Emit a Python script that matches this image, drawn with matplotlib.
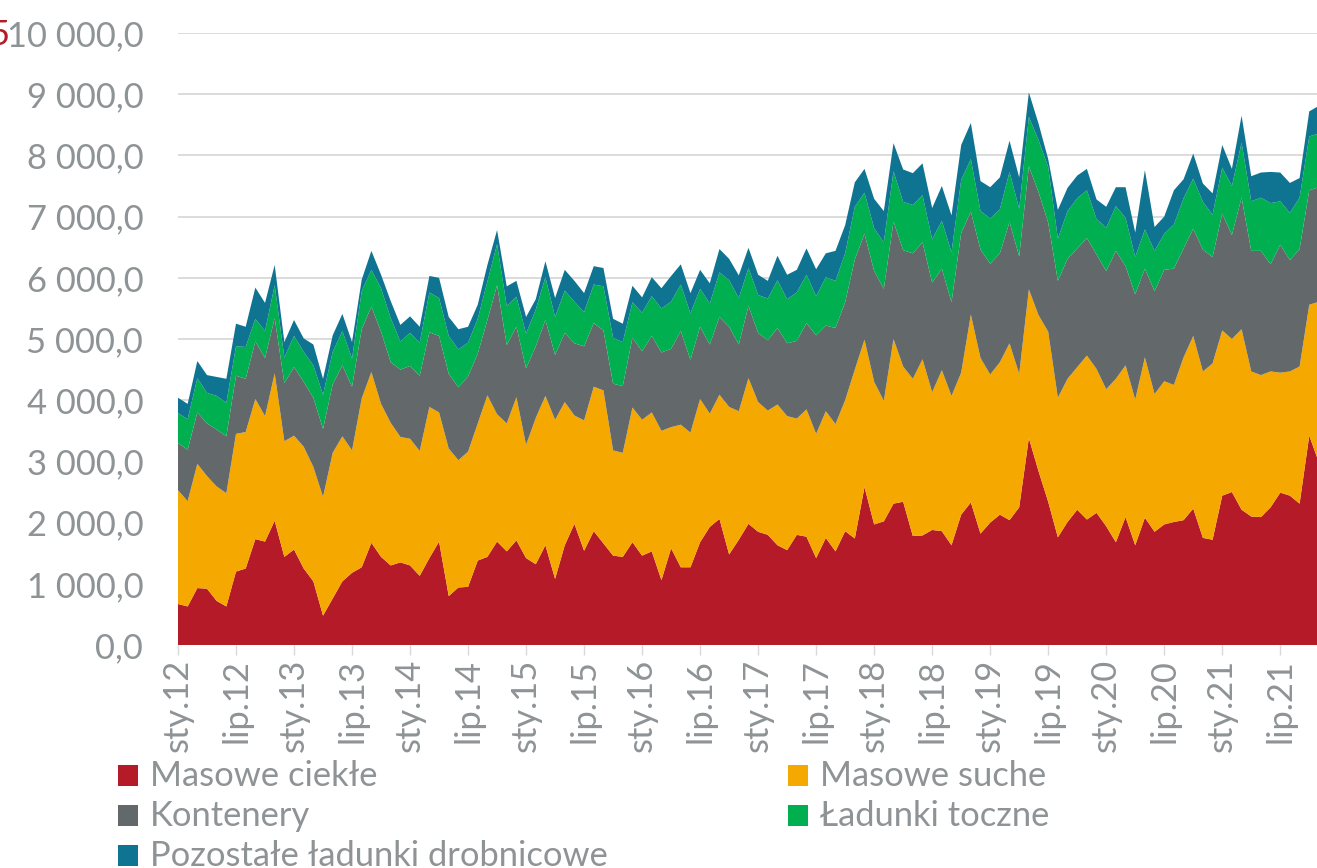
import numpy as np
import matplotlib
matplotlib.use("Agg")
import matplotlib.pyplot as plt
from matplotlib.ticker import FuncFormatter, MultipleLocator
from matplotlib.patches import Rectangle

plt.rcParams['font.family'] = ['Lato', 'DejaVu Sans']

# monthly data, sty.12 (Jan 2012) onwards, thousand tonnes
masowe_ciekle = [670, 630, 930, 920, 720, 630, 1200, 1250, 1730, 1690,
                 2030, 1440, 1560, 1250, 1040, 480, 760, 1040, 1180, 1270,
                 1670, 1440, 1300, 1350, 1300, 1130, 1420, 1690, 800, 940,
                 950, 1380, 1440, 1690, 1530, 1710, 1420, 1320, 1630, 1080,
                 1630, 1980, 1540, 1860, 1660, 1460, 1440, 1680, 1460, 1530,
                 1060, 1580, 1270, 1270, 1680, 1930, 2060, 1480, 1720, 1980,
                 1850, 1800, 1630, 1550, 1800, 1770, 1420, 1750, 1530, 1860,
                 1740, 2580, 1970, 2020, 2310, 2340, 1780, 1790, 1880, 1860,
                 1630, 2130, 2330, 1820, 2000, 2130, 2040, 2250, 3380, 2840,
                 2340, 1760, 2010, 2210, 2050, 2160, 1940, 1680, 2090, 1630,
                 2080, 1850, 1970, 2010, 2040, 2230, 1750, 1720, 2440, 2500,
                 2210, 2100, 2090, 2250, 2490, 2440, 2310, 3420, 2980]
masowe_suche = [1860, 1720, 2030, 1840, 1870, 1850, 2250, 2230, 2290, 2050,
                2410, 1890, 1860, 1990, 1870, 1940, 2380, 2370, 2000, 2760,
                2790, 2500, 2330, 2050, 2070, 2040, 2470, 2110, 2410, 2080,
                2210, 2240, 2640, 2080, 2090, 2340, 1850, 2390, 2440, 2600,
                2340, 1770, 2130, 2360, 2500, 1720, 1700, 2200, 2220, 2270,
                2440, 1980, 2330, 2200, 2340, 1850, 2030, 2410, 2100, 2380,
                2120, 2030, 2300, 2190, 1900, 2080, 2030, 2070, 2080, 2140,
                2760, 2410, 2330, 1970, 2690, 2210, 2570, 2880, 2250, 2630,
                2440, 2320, 3070, 2870, 2420, 2490, 2890, 2180, 2430, 2550,
                2780, 2280, 2340, 2330, 2680, 2350, 2240, 2670, 2480, 2380,
                2620, 2250, 2340, 2240, 2660, 2820, 2720, 2880, 2700, 2500,
                2950, 2370, 2320, 2220, 1960, 2030, 2240, 2140, 2630]
kontenery = [770, 840, 840, 860, 930, 930, 950, 870, 940, 950,
             900, 950, 1120, 1060, 1130, 1110, 1120, 1160, 1040, 1130,
             1070, 1180, 990, 1100, 1190, 1230, 1220, 1250, 1220, 1190,
             1230, 1140, 1230, 2110, 1280, 1150, 1250, 1170, 1240, 1060,
             1130, 1180, 1210, 1040, 980, 1090, 1090, 1140, 1120, 1250,
             1280, 1280, 1530, 1190, 1180, 1130, 1270, 1310, 1090, 1180,
             1130, 1150, 1250, 1190, 1270, 1410, 1610, 1400, 1570, 1600,
             1800, 1730, 1810, 1830, 1920, 1900, 2050, 1910, 1790, 1660,
             1530, 2280, 1680, 1770, 1810, 1780, 1980, 1920, 2010, 2010,
             1780, 1910, 1960, 1940, 1920, 1870, 1930, 2090, 1620, 1720,
             1450, 1680, 1820, 1900, 1780, 1750, 1990, 1740, 1910, 1700,
             2150, 1970, 2030, 1750, 2090, 1820, 1920, 1870, 1870]
ladunki_toczne = [490, 500, 560, 500, 550, 550, 480, 520, 370, 440,
                  540, 420, 510, 490, 530, 560, 530, 560, 460, 620,
                  600, 710, 720, 460, 540, 540, 650, 620, 620, 620,
                  550, 570, 630, 670, 640, 490, 570, 600, 700, 620,
                  690, 680, 560, 630, 720, 750, 720, 580, 630, 650,
                  720, 770, 760, 760, 620, 670, 730, 760, 760, 620,
                  620, 680, 780, 720, 790, 790, 640, 790, 770, 800,
                  860, 670, 700, 760, 820, 790, 790, 770, 710, 780,
                  820, 870, 860, 630, 740, 720, 820, 780, 810, 850,
                  910, 690, 780, 820, 780, 580, 710, 730, 790, 610,
                  640, 660, 590, 720, 820, 820, 780, 690, 750, 800,
                  900, 810, 870, 1000, 710, 770, 840, 880, 880]
pozostale = [250, 250, 280, 290, 310, 390, 370, 330, 510, 460,
             330, 250, 260, 220, 340, 260, 270, 280, 270, 190,
             310, 220, 280, 270, 270, 260, 270, 330, 310, 330,
             260, 230, 270, 230, 320, 260, 270, 170, 260, 310,
             340, 340, 310, 300, 300, 310, 300, 270, 250, 310,
             330, 420, 330, 330, 310, 330, 380, 350, 370, 330,
             330, 290, 400, 400, 370, 430, 440, 390, 490, 460,
             400, 390, 480, 510, 460, 530, 520, 520, 510, 570,
             600, 570, 590, 490, 510, 520, 510, 510, 400, 270,
             130, 470, 380, 370, 350, 320, 340, 310, 500, 400,
             970, 390, 280, 560, 310, 410, 300, 350, 370, 280,
             440, 410, 410, 510, 470, 490, 320, 410, 450]

nazwy = ["Masowe ciekłe", "Masowe suche", "Kontenery", "Ładunki toczne",
         "Pozostałe ładunki drobnicowe"]
kolory = ["#B51A29", "#F5A800", "#63686B", "#00AF4F", "#0E7491"]
etykiety_x = ["sty.12", "lip.12", "sty.13", "lip.13", "sty.14", "lip.14",
              "sty.15", "lip.15", "sty.16", "lip.16", "sty.17", "lip.17",
              "sty.18", "lip.18", "sty.19", "lip.19", "sty.20", "lip.20",
              "sty.21", "lip.21"]

SZARY = "#8E9396"
SIATKA = "#D9D9D9"
FS = 24.8

W, H = 1317, 868
fig = plt.figure(figsize=(W / 100, H / 100), dpi=100)
ax = fig.add_axes([178 / W, (H - 645) / H, (W - 178) / W, (645 - 33) / H])

x = np.arange(len(masowe_ciekle))
ax.stackplot(x, masowe_ciekle, masowe_suche, kontenery, ladunki_toczne, pozostale,
             colors=kolory, linewidth=0, zorder=2)

ax.set_xlim(0, 117.8)
ax.set_ylim(0, 10000)
ax.yaxis.set_major_locator(MultipleLocator(1000))
ax.yaxis.set_major_formatter(FuncFormatter(
    lambda v, p: f"{v:,.1f}".replace(",", " ").replace(".", ",")))
ax.grid(axis='y', color=SIATKA, linewidth=1.3, zorder=0)
ax.set_axisbelow(True)
for s in ax.spines.values():
    s.set_visible(False)

ax.set_xticks(np.arange(0, 6 * len(etykiety_x), 6))
ax.set_xticklabels(etykiety_x, rotation=90, va='top', ha='center')
ax.tick_params(axis='x', length=7, width=1, color=SIATKA, pad=3,
               labelsize=FS, labelcolor=SZARY)
ax.tick_params(axis='y', length=0, pad=25, labelsize=FS, labelcolor=SZARY)

# legenda ręcznie, dwie kolumny wierszami
pozycje = [(118, 786), (788, 786), (118, 826), (788, 826), (118, 866)]
for (px, py), nazwa, kol in zip(pozycje, nazwy, kolory):
    fig.patches.append(Rectangle((px / W, (H - py) / H), 20 / W, 21 / H,
                                 transform=fig.transFigure, facecolor=kol,
                                 edgecolor='none'))
    fig.text((px + 32) / W, (H - py) / H, nazwa, fontsize=FS, color=SZARY,
             va='baseline', ha='left')

# urwana etykieta w lewym górnym rogu
fig.text(9 / W, (H - 45) / H, "5", fontsize=FS, color="#B51A29",
         va='baseline', ha='right')

fig.savefig("out.png", dpi=100)
